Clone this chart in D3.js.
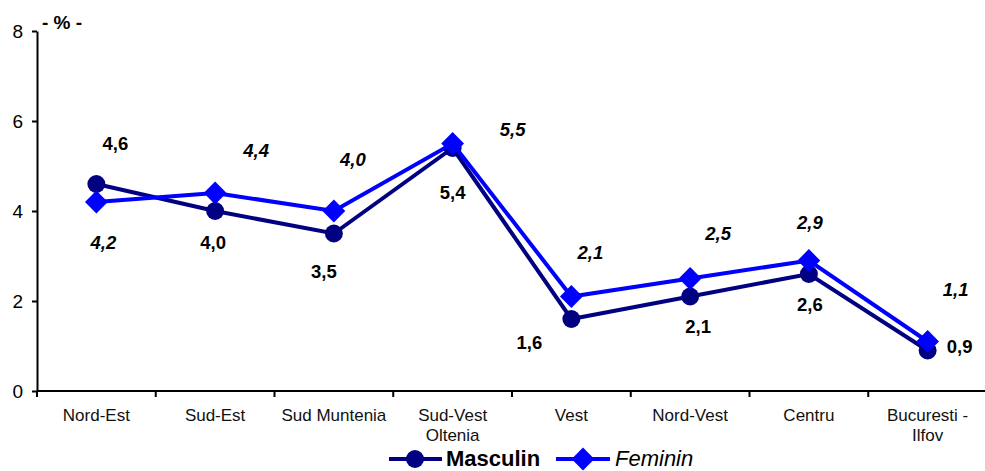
<!DOCTYPE html>
<html>
<head>
<meta charset="utf-8">
<script src="https://cdn.jsdelivr.net/npm/d3@7"></script>
<style>
  body { margin: 0; background: #fff; }
  text { font-family: "Liberation Sans", Arial, sans-serif; }
</style>
</head>
<body>
<script>
// regions and the two series
var regions = ['Nord-Est', 'Sud-Est', 'Sud Muntenia', 'Sud-Vest|Oltenia', 'Vest', 'Nord-Vest', 'Centru', 'Bucuresti -|Ilfov'];
var masculin = [4.6, 4.0, 3.5, 5.4, 1.6, 2.1, 2.6, 0.9];
var feminin = [4.2, 4.4, 4.0, 5.5, 2.1, 2.5, 2.9, 1.1];
var yTicks = [0, 2, 4, 6, 8];

// where each value label sits relative to its marker (dx, dy)
var mascLabelShift = [[19, -40], [-2, 32], [-10, 38], [0, 45], [-42, 24], [8, 30], [1, 31], [32, -4]];
var femLabelShift = [[7, 41], [41, -42], [19, -51], [60, -14], [19, -44], [28, -45], [1, -38], [28, -52]];

var W = 985, H = 471;
var svg = d3.select('body').append('svg')
    .attr('width', W)
    .attr('height', H);

var x = d3.scaleBand()
    .domain(regions)
    .range([37, 987]);

var y = d3.scaleLinear()
    .domain([0, 8])
    .range([391, 31]);

// y axis
var yAxis = svg.append('g')
    .attr('transform', 'translate(37,0)')
    .call(d3.axisLeft(y).tickValues(yTicks).tickSize(5).tickSizeOuter(0));
yAxis.select('.domain').attr('stroke-width', 2);
yAxis.selectAll('.tick line').attr('stroke-width', 2);
yAxis.selectAll('.tick text')
    .attr('x', -14)
    .style('font-size', '19px')
    .style('font-family', '"Liberation Sans", Arial, sans-serif')
    .attr('fill', '#000');

// x axis: ticks on band boundaries
svg.append('line')
    .attr('x1', 37).attr('x2', 987)
    .attr('y1', y(0)).attr('y2', y(0))
    .attr('stroke', '#000')
    .attr('stroke-width', 2);

svg.selectAll('.xtick')
    .data(regions)
    .enter()
    .append('line')
    .attr('class', 'xtick')
    .attr('x1', function (d) { return x(d); })
    .attr('x2', function (d) { return x(d); })
    .attr('y1', y(0))
    .attr('y2', y(0) + 6)
    .attr('stroke', '#000')
    .attr('stroke-width', 2);

var xLabels = svg.selectAll('.xlab')
    .data(regions)
    .enter()
    .append('text')
    .attr('class', 'xlab')
    .attr('text-anchor', 'middle')
    .style('font-size', '17px')
    .attr('fill', '#111');

xLabels.each(function (d) {
    var parts = d.split('|');
    var t = d3.select(this);
    parts.forEach(function (p, i) {
        t.append('tspan')
            .attr('x', x(d) + x.bandwidth() / 2)
            .attr('y', 421 + i * 20)
            .text(p);
    });
});

// unit
svg.append('text')
    .attr('x', 42)
    .attr('y', 29)
    .style('font-size', '19px')
    .style('font-weight', 'bold')
    .text('- % -');

function cx(i) { return x(regions[i]) + x.bandwidth() / 2; }

var line = d3.line()
    .x(function (d, i) { return cx(i); })
    .y(function (d) { return y(d); });

var diamond = d3.symbol().type(d3.symbolSquare).size(260);

// Masculin
svg.append('path')
    .datum(masculin)
    .attr('d', line)
    .attr('fill', 'none')
    .attr('stroke', '#000080')
    .attr('stroke-width', 4);

svg.selectAll('.mdot')
    .data(masculin)
    .enter()
    .append('circle')
    .attr('class', 'mdot')
    .attr('cx', function (d, i) { return cx(i); })
    .attr('cy', function (d) { return y(d); })
    .attr('r', 9)
    .attr('fill', '#000080');

// Feminin
svg.append('path')
    .datum(feminin)
    .attr('d', line)
    .attr('fill', 'none')
    .attr('stroke', '#0000FF')
    .attr('stroke-width', 4);

svg.selectAll('.fdot')
    .data(feminin)
    .enter()
    .append('path')
    .attr('class', 'fdot')
    .attr('d', diamond)
    .attr('transform', function (d, i) { return 'translate(' + cx(i) + ',' + y(d) + ') rotate(45)'; })
    .attr('fill', '#0000FF');

function fmt(v) { return d3.format('.1f')(v).replace('.', ','); }

// value labels
svg.selectAll('.mlab')
    .data(masculin)
    .enter()
    .append('text')
    .attr('class', 'mlab')
    .attr('x', function (d, i) { return cx(i) + mascLabelShift[i][0]; })
    .attr('y', function (d, i) { return y(d) + mascLabelShift[i][1]; })
    .attr('dy', '0.35em')
    .attr('text-anchor', 'middle')
    .style('font-size', '18.5px')
    .style('font-weight', 'bold')
    .text(fmt);

svg.selectAll('.flab')
    .data(feminin)
    .enter()
    .append('text')
    .attr('class', 'flab')
    .attr('x', function (d, i) { return cx(i) + femLabelShift[i][0]; })
    .attr('y', function (d, i) { return y(d) + femLabelShift[i][1]; })
    .attr('dy', '0.35em')
    .attr('text-anchor', 'middle')
    .style('font-size', '18.5px')
    .style('font-weight', 'bold')
    .style('font-style', 'italic')
    .text(fmt);

// legend
var legend = svg.append('g');
legend.append('line')
    .attr('x1', 389).attr('x2', 442).attr('y1', 459).attr('y2', 459)
    .attr('stroke', '#000080').attr('stroke-width', 4);
legend.append('circle')
    .attr('cx', 415).attr('cy', 459).attr('r', 9)
    .attr('fill', '#000080');
legend.append('text')
    .attr('x', 446).attr('y', 466)
    .style('font-size', '22px')
    .style('font-weight', 'bold')
    .text('Masculin');

legend.append('line')
    .attr('x1', 556).attr('x2', 610).attr('y1', 459).attr('y2', 459)
    .attr('stroke', '#0000FF').attr('stroke-width', 4);
legend.append('path')
    .attr('d', diamond)
    .attr('transform', 'translate(583,459) rotate(45)')
    .attr('fill', '#0000FF');
legend.append('text')
    .attr('x', 615).attr('y', 466)
    .style('font-size', '22px')
    .style('font-style', 'italic')
    .text('Feminin');
</script>
</body>
</html>
